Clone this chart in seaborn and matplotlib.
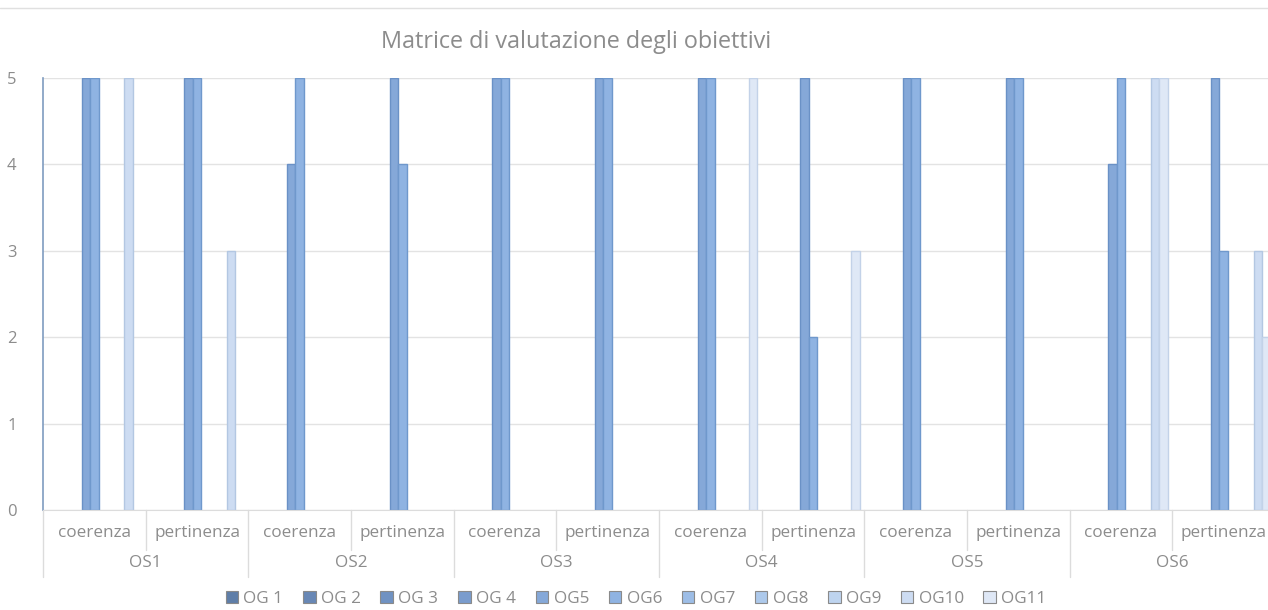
import numpy as np
import pandas as pd
import matplotlib
matplotlib.use("Agg")
import matplotlib.pyplot as plt
import matplotlib.transforms as mtransforms
from matplotlib.patches import Patch
import seaborn as sns

# categories: obiettivi specifici x criterio
groups = ["OS1", "OS2", "OS3", "OS4", "OS5", "OS6"]
criteria = ["coerenza", "pertinenza"]
series = ["OG 1", "OG 2", "OG 3", "OG 4", "OG5", "OG6", "OG7", "OG8", "OG9", "OG10", "OG11"]

# values per series, order: OS1 coe, OS1 per, OS2 coe, ... (nan = empty cell)
nan = np.nan
og5 = [5, 5, 4, 5, 5, 5, 5, 5, 5, 5, 4, 5]
og6 = [5, 5, 5, 4, 5, 5, 5, 2, 5, 5, 5, 3]
og10 = [5, 3, nan, nan, nan, nan, nan, nan, nan, nan, 5, 3]
og11 = [nan, nan, nan, nan, nan, nan, 5, 3, nan, nan, 5, 2]
empty = [nan] * 12

values = {
    "OG 1": empty, "OG 2": empty, "OG 3": empty, "OG 4": empty,
    "OG5": og5, "OG6": og6, "OG7": empty, "OG8": empty, "OG9": empty,
    "OG10": og10, "OG11": og11,
}

palette = ["#5f7ea8", "#6887b5", "#7092c2", "#7a9ccd", "#85a8d8", "#8fb3e2",
           "#9dbde6", "#adc9eb", "#bed4ef", "#cddcf2", "#dfe8f6"]
edges = ["#4d6890", "#56739d", "#5c7cab", "#6586b6", "#6a91c6", "#6f98cc",
         "#88a8d2", "#98b5d8", "#a9c1dd", "#b3c7e2", "#c3d2e8"]

cats = [f"{g} {c}" for g in groups for c in criteria]
rows = []
for s in series:
    for cat, v in zip(cats, values[s]):
        rows.append({"cat": cat, "serie": s, "valore": v})
df = pd.DataFrame(rows)

sns.set_style("white")
plt.rcParams["font.family"] = ["Open Sans", "DejaVu Sans"]

fig = plt.figure(figsize=(12.68, 6.10), dpi=100)
ax = fig.add_axes([43 / 1268, 100 / 610, 1232 / 1268, 432 / 610])

sns.barplot(data=df.dropna(), x="cat", y="valore", hue="serie", order=cats,
            hue_order=series, palette=dict(zip(series, palette)),
            width=0.916, gap=0, ax=ax, legend=False, saturation=1)

# edge colours: match each bar's face colour to its series
face_to_edge = {matplotlib.colors.to_hex(c): e for c, e in zip(palette, edges)}
for b in ax.patches:
    fc = matplotlib.colors.to_hex(b.get_facecolor())
    b.set_edgecolor(face_to_edge.get(fc, "#7a9ccd"))
    b.set_linewidth(1.0)

ax.set_xlim(-0.5, len(cats) - 0.5)
ax.set_ylim(0, 5)
ax.set_yticks(range(6))
ax.set_yticks(np.arange(0.5, 5, 1), minor=True)
ax.grid(axis="y", color="#e3e3e3", linewidth=1)
ax.set_axisbelow(True)
ax.set_xlabel("")
ax.set_ylabel("")
ax.set_xticks([])
for side in ["top", "right"]:
    ax.spines[side].set_visible(False)
ax.spines["left"].set_color("#7f9cc0")
ax.spines["left"].set_linewidth(1.2)
ax.spines["bottom"].set_color("#dcdcdc")
ax.tick_params(axis="y", which="both", length=5, color="#7f9cc0", width=1.2,
               labelsize=12, labelcolor="#8c8c8c", pad=14)

# two-level category axis
trans = mtransforms.blended_transform_factory(ax.transData, ax.transAxes)
for i, cat in enumerate(cats):
    ax.text(i, -0.053, cat.split(" ")[1], transform=trans, ha="center", va="center",
            fontsize=12.3, color="#8c8c8c")
for j, g in enumerate(groups):
    ax.text(2 * j + 0.5, -0.123, g, transform=trans, ha="center", va="center",
            fontsize=12.3, color="#8c8c8c")
    ax.plot([2 * j - 0.5] * 2, [0, -0.155], transform=trans, color="#dcdcdc",
            linewidth=1, clip_on=False)
    ax.plot([2 * j + 0.5] * 2, [0, -0.093], transform=trans, color="#dcdcdc",
            linewidth=1, clip_on=False)

fig.text(576 / 1268, 1 - 42 / 610, "Matrice di valutazione degli obiettivi",
         ha="center", va="center", fontsize=16.8, color="#8c8c8c")
fig.add_artist(plt.Line2D([0, 1], [1 - 8 / 610] * 2, color="#e0e0e0", linewidth=1))

handles = [Patch(facecolor=c, edgecolor="#8a8a8a", linewidth=0.8) for c in palette]
fig.legend(handles, series, loc="center", bbox_to_anchor=(636 / 1268, 11 / 610), ncol=11,
           frameon=False, fontsize=12.3, labelcolor="#8c8c8c", handlelength=0.75,
           handleheight=0.75, handletextpad=0.3, columnspacing=1.15)

fig.savefig("out.png", dpi=100)
